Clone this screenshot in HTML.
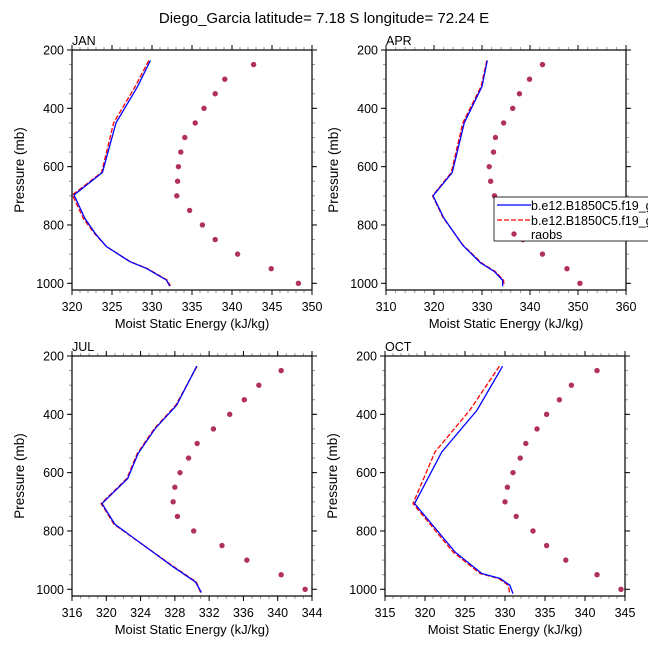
<!DOCTYPE html>
<html><head><meta charset="utf-8"><style>
body{margin:0;background:#fff}
svg{display:block;font-family:"Liberation Sans",sans-serif}
</style></head><body>
<svg id="chart" width="648" height="648" viewBox="0 0 648 648">
<text x="324" y="23" text-anchor="middle" font-size="15">Diego_Garcia  latitude= 7.18 S longitude= 72.24 E</text>
</svg>
<script>
// ---- data ----
const panelNames=["JAN","APR","JUL","OCT"];
const xMins=[320,310,316,315];
const xMaxs=[350,360,344,345];
const xTickSteps=[5,10,4,5];
const xMinorSteps=[1,2,1,1];
const obsP=[250,300,350,400,450,500,550,600,650,700,750,800,850,900,950,1000];
const obsJAN=[342.7,339.1,337.9,336.5,335.4,334.1,333.6,333.3,333.2,333.1,334.7,336.3,337.9,340.7,344.9,348.3];
const obsAPR=[342.6,339.9,337.8,336.4,334.5,332.8,332.4,331.5,331.8,332.6,334.3,335.7,338.5,342.6,347.7,350.4];
const obsJUL=[340.4,337.8,336.1,334.4,332.5,330.6,329.6,328.6,328.0,327.8,328.3,330.2,333.5,336.4,340.4,343.2];
const obsOCT=[341.5,338.3,336.8,335.2,334.0,332.6,331.9,331.0,330.3,330.0,331.4,333.5,335.2,337.6,341.5,344.5];
const modPJan=[236,325,450,620,697,777,829,874,926,949,989,1009];
const blueJAN=[329.8,328.2,325.5,323.8,320.25,321.6,322.9,324.3,327.25,329.3,331.8,332.2];
const redJAN=[329.6,327.9,325.2,323.7,320.05,321.4,322.8,324.3,327.3,329.4,331.9,332.3];
const modP=[236,325,450,620,700,775,870,930,960,990,1010];
const blueAPR=[331.1,330.0,326.3,323.8,319.8,322.0,326.0,329.7,332.6,334.3,334.3];
const redAPR=[331.0,329.8,326.0,323.6,319.7,321.9,326.1,329.9,332.8,334.5,334.6];
const modPJ=[235,369,449,535,620,706,777,923,975,1011];
const blueJUL=[330.55,328.2,325.7,323.7,322.5,319.5,321.0,327.8,330.4,331.1];
const redJUL=[330.6,328.1,325.6,323.6,322.4,319.4,320.9,327.9,330.5,331.0];
const modPO=[235,386,529,706,872,946,963,986,1015];
const blueOCT=[329.7,326.5,322.1,318.7,323.75,327.1,329.4,330.6,331.0];
const redOCT=[329.3,325.6,321.25,318.5,323.5,326.9,329.2,330.4,330.6];
const yTicks=[200,400,600,800,1000];

const obsAll=[obsJAN,obsAPR,obsJUL,obsOCT];
const blueAll=[blueJAN,blueAPR,blueJUL,blueOCT];
const redAll=[redJAN,redAPR,redJUL,redOCT];
const modPAll=[modPJan,modP,modPJ,modPO];
const boxes=[[72,50],[386,50],[72,356],[385,356]];
const W=240,H=240,PMIN=200,PMAX=1023;
const svg=document.getElementById('chart');
const NS="http://www.w3.org/2000/svg";
function el(t,a,parent){const e=document.createElementNS(NS,t);for(const k in a)e.setAttribute(k,a[k]);(parent||svg).appendChild(e);return e;}

panelNames.forEach((nm,i)=>{
  const [bx,by]=boxes[i];
  const xs=v=>bx+(v-xMins[i])/(xMaxs[i]-xMins[i])*W;
  const ys=p=>by+(p-PMIN)/(PMAX-PMIN)*H;
  const g=el('g',{});
  
  
  const t=el('text',{x:bx,y:by-5,'font-size':12.5},g);t.textContent=nm;
  
  
  for(let v=xMins[i];v<=xMaxs[i]+1e-9;v+=xMinorSteps[i]){
    const x=xs(v);
    el('line',{x1:x,x2:x,y1:by,y2:by-3,stroke:'#999'},g);
    el('line',{x1:x,x2:x,y1:by+H,y2:by+H+3,stroke:'#999'},g);
  }
  for(let v=xMins[i];v<=xMaxs[i]+1e-9;v+=xTickSteps[i]){
    const x=xs(v);
    el('line',{x1:x,x2:x,y1:by,y2:by-5,stroke:'#000'},g);
    el('line',{x1:x,x2:x,y1:by+H,y2:by+H+5,stroke:'#000'},g);
    const l=el('text',{x:x,y:by+H+21,'text-anchor':'middle','font-size':12.5},g);l.textContent=v;
    
    
  }
  for(let p=200;p<=1000;p+=50){
    const y=ys(p);
    el('line',{x1:bx,x2:bx-3,y1:y,y2:y,stroke:'#999'},g);
    el('line',{x1:bx+W,x2:bx+W+3,y1:y,y2:y,stroke:'#999'},g);
  }
  yTicks.forEach(p=>{
    const y=ys(p);
    el('line',{x1:bx,x2:bx-5,y1:y,y2:y,stroke:'#000'},g);
    el('line',{x1:bx+W,x2:bx+W+5,y1:y,y2:y,stroke:'#000'},g);
    const l=el('text',{x:bx-8,y:y+4.5,'text-anchor':'end','font-size':12.5},g);l.textContent=p;
    
    
  });
  el('rect',{x:bx,y:by,width:W,height:H,fill:'none',stroke:'#000','stroke-width':1.2},g);
  const xl=el('text',{x:bx+W/2,y:by+H+38,'text-anchor':'middle','font-size':13},g);xl.textContent='Moist Static Energy (kJ/kg)';
  
  
  const yx=bx-48,yy=by+H/2;
  const yl=el('text',{x:yx,y:yy,'text-anchor':'middle','font-size':13.5,transform:`rotate(-90 ${yx} ${yy})`},g);yl.textContent='Pressure (mb)';
  
  
  const mp=modPAll[i];
  const rl=el('polyline',{points:redAll[i].map((v,k)=>xs(v)+','+ys(mp[k])).join(' '),fill:'none',stroke:'#f00','stroke-width':1.3,'stroke-dasharray':'5,2'},g);
  
  
  const bl=el('polyline',{points:blueAll[i].map((v,k)=>xs(v)+','+ys(mp[k])).join(' '),fill:'none',stroke:'#00f','stroke-width':1.3},g);
  
  
  obsAll[i].forEach((v,k)=>{
    const c=el('circle',{cx:xs(v),cy:ys(obsP[k]),r:2.7,fill:'#b03060'},g);
    
    
  });
});
const lg=el('g',{});


el('rect',{x:494,y:197,width:170,height:44,fill:'#fff',stroke:'#000','stroke-width':0.8},lg);
el('line',{x1:497,x2:531,y1:205,y2:205,stroke:'#00f','stroke-width':1.3},lg);
el('line',{x1:497,x2:531,y1:220,y2:220,stroke:'#f00','stroke-width':1.3,'stroke-dasharray':'5,2'},lg);
el('circle',{cx:514,cy:234,r:2.7,fill:'#b03060'},lg);
[['b.e12.B1850C5.f19_g',210],['b.e12.B1850C5.f19_g',225],['raobs',239]].forEach(([s,y])=>{
  const t=el('text',{x:531,y:y,'font-size':12.5},lg);t.textContent=s;
  
  
});
</script>
</body></html>
